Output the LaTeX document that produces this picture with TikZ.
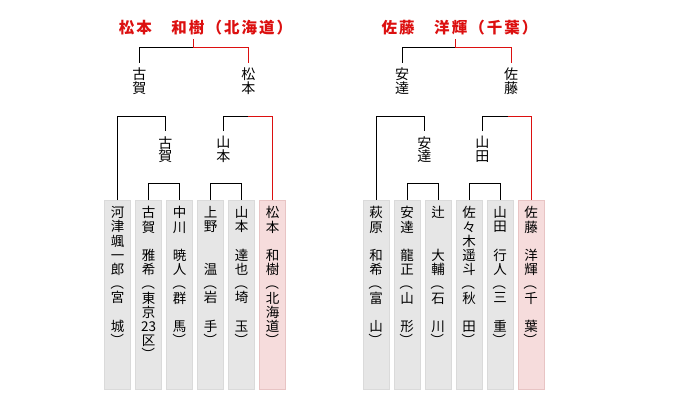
\documentclass[tikz,border=0pt]{standalone}
\usepackage{fontspec}
\usepackage{graphicx}
\newfontfamily\cjk{Noto Sans CJK JP}
\newfontfamily\cjktitle[LetterSpace=13]{Noto Sans CJK JP}
\newcommand\tateopen{\rotatebox[origin=c]{-90}{（}}
\newcommand\tateclose{\rotatebox[origin=c]{-90}{）}}
\definecolor{winred}{RGB}{220, 16, 16}
\definecolor{boxgray}{RGB}{230, 230, 230}
\definecolor{boxedge}{RGB}{218, 218, 218}
\definecolor{boxpink}{RGB}{246, 220, 220}
\definecolor{pinkedge}{RGB}{232, 196, 196}

\begin{document}
\begin{tikzpicture}[x=1pt, y=-1pt, line width=1pt,
        tate/.style={anchor=north, yshift=-6pt, inner sep=0pt, align=center,
            font=\cjk\fontsize{13.5}{14.2}\selectfont},
        player/.style={draw=boxedge, fill=boxgray, line width=0.6pt, anchor=north,
            minimum width=26pt, minimum height=189pt, inner sep=0pt,
            label={[tate]north:#1}},
        champbox/.style={player=#1, draw=pinkedge, fill=boxpink},
        lbl/.style={anchor=north, inner xsep=0pt, inner ysep=5pt, align=center,
            font=\cjk\fontsize{14}{13.5}\selectfont},
        title/.style={anchor=base, inner sep=0pt, text depth=5.3pt, text=winred,
            font=\cjktitle\bfseries\fontsize{15.5}{16}\selectfont},
        winline/.style={draw=winred}
    ]
    \useasboundingbox (0,0) rectangle (700,415);

    % Left block: entries
    \node[player={河\\津\\颯\\一\\郎\\\tateopen\\宮\\　\\城\\\tateclose}] (kawazu) at (117.5, 200) {};
    \node[player={古\\賀\\　\\雅\\希\\\tateopen\\東\\京\\23\\区\\\tateclose}] (koga) at (148.5, 200) {};
    \node[player={中\\川\\　\\暁\\人\\\tateopen\\群\\　\\馬\\\tateclose}] (nakagawa) at (179.5, 200) {};
    \node[player={上\\野\\　\\　\\温\\\tateopen\\岩\\　\\手\\\tateclose}] (ueno) at (210.5, 200) {};
    \node[player={山\\本\\　\\達\\也\\\tateopen\\埼\\　\\玉\\\tateclose}] (yamamoto) at (241.5, 200) {};
    \node[champbox={松\\本\\　\\和\\樹\\\tateopen\\北\\海\\道\\\tateclose}] (matsumoto) at (272.5, 200) {};

    % Left block: winners by round
    \node[lbl] (koga2) at (165.3, 131) {古\\賀};
    \node[lbl] (yamamoto2) at (223.3, 131) {山\\本};
    \node[lbl] (koga3) at (139.3, 62.7) {古\\賀};
    \node[lbl] (matsumoto3) at (248.3, 62.7) {松\\本};
    \node[title] (champL) at (205.5, 33) {松本　和樹（北海道）};

    \coordinate (lsemi) at (248, 116.7);
    \coordinate (lfin) at (193.3, 47.3);

    \draw (koga.north) -- ++(0,-16.3) -| (nakagawa.north);
    \draw (ueno.north) -- ++(0,-16.3) -| (yamamoto.north);
    \draw (kawazu.north) -- ++(0,-83.3) -| (koga2.north);
    \draw (yamamoto2.north) |- (lsemi);
    \draw[winline] (lsemi) -| (matsumoto.north);
    \draw (koga3.north) |- (lfin);
    \draw[winline] (lfin) -| (matsumoto3.north);
    \draw[winline] (lfin) -- (lfin |- champL.south);

    % Right block: entries
    \node[player={萩\\原\\　\\和\\希\\\tateopen\\富\\　\\山\\\tateclose}] (hagiwara) at (376, 200) {};
    \node[player={安\\達\\　\\龍\\正\\\tateopen\\山\\　\\形\\\tateclose}] (adachi) at (407, 200) {};
    \node[player={辻\\　\\　\\大\\輔\\\tateopen\\石\\　\\川\\\tateclose}] (tsuji) at (438, 200) {};
    \node[player={佐\\々\\木\\遥\\斗\\\tateopen\\秋\\　\\田\\\tateclose}] (sasaki) at (469, 200) {};
    \node[player={山\\田\\　\\行\\人\\\tateopen\\三\\　\\重\\\tateclose}] (yamada) at (500, 200) {};
    \node[champbox={佐\\藤\\　\\洋\\輝\\\tateopen\\千\\　\\葉\\\tateclose}] (sato) at (531, 200) {};

    % Right block: winners by round
    \node[lbl] (adachi2) at (424.3, 131) {安\\達};
    \node[lbl] (yamada2) at (482.3, 131) {山\\田};
    \node[lbl] (adachi3) at (402, 62.7) {安\\達};
    \node[lbl] (sato3) at (511, 62.7) {佐\\藤};
    \node[title] (champR) at (459.5, 33) {佐藤　洋輝（千葉）};

    \coordinate (rsemi) at (507.5, 116.7);
    \coordinate (rfin) at (455.3, 47.3);

    \draw (adachi.north) -- ++(0,-16.3) -| (tsuji.north);
    \draw (sasaki.north) -- ++(0,-16.3) -| (yamada.north);
    \draw (hagiwara.north) -- ++(0,-83.3) -| (adachi2.north);
    \draw (yamada2.north) |- (rsemi);
    \draw[winline] (rsemi) -| (sato.north);
    \draw (adachi3.north) |- (rfin);
    \draw[winline] (rfin) -| (sato3.north);
    \draw[winline] (rfin) -- (rfin |- champR.south);

\end{tikzpicture}
\end{document}
